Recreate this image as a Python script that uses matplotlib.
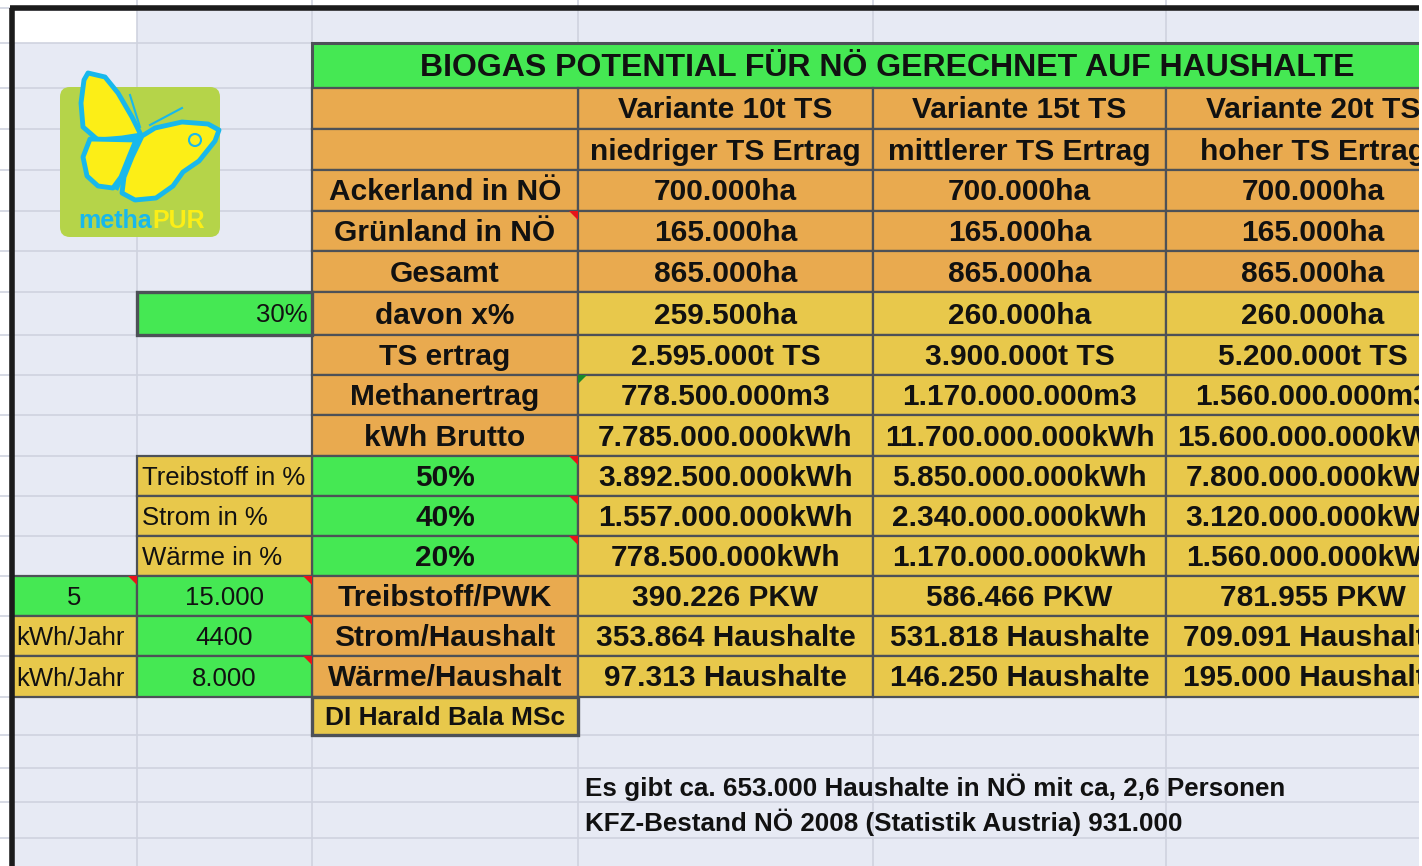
import matplotlib.pyplot as plt
from matplotlib.patches import Rectangle, Polygon, FancyBboxPatch, Circle

# ---- data read from the sheet ----
title = "BIOGAS POTENTIAL FÜR NÖ GERECHNET AUF HAUSHALTE"
variants = ["Variante 10t TS", "Variante 15t TS", "Variante 20t TS"]
yield_levels = ["niedriger TS Ertrag", "mittlerer TS Ertrag", "hoher TS Ertrag"]
row_labels = ["Ackerland in NÖ", "Grünland in NÖ", "Gesamt", "davon x%", "TS ertrag",
              "Methanertrag", "kWh Brutto", "50%", "40%", "20%",
              "Treibstoff/PWK", "Strom/Haushalt", "Wärme/Haushalt"]
values_10t = ["700.000ha", "165.000ha", "865.000ha", "259.500ha", "2.595.000t TS",
              "778.500.000m3", "7.785.000.000kWh", "3.892.500.000kWh", "1.557.000.000kWh",
              "778.500.000kWh", "390.226 PKW", "353.864 Haushalte", "97.313 Haushalte"]
values_15t = ["700.000ha", "165.000ha", "865.000ha", "260.000ha", "3.900.000t TS",
              "1.170.000.000m3", "11.700.000.000kWh", "5.850.000.000kWh", "2.340.000.000kWh",
              "1.170.000.000kWh", "586.466 PKW", "531.818 Haushalte", "146.250 Haushalte"]
values_20t = ["700.000ha", "165.000ha", "865.000ha", "260.000ha", "5.200.000t TS",
              "1.560.000.000m3", "15.600.000.000kWh", "7.800.000.000kWh", "3.120.000.000kWh",
              "1.560.000.000kWh", "781.955 PKW", "709.091 Haushalte", "195.000 Haushalte"]
share_input = "30%"
use_labels = ["Treibstoff in %", "Strom in %", "Wärme in %"]
unit_col_a = ["5", "kWh/Jahr", "kWh/Jahr"]
unit_col_b = ["15.000", "4400", "8.000"]
author = "DI Harald Bala MSc"
notes = ["Es gibt ca. 653.000 Haushalte in NÖ mit ca, 2,6 Personen",
         "KFZ-Bestand NÖ 2008 (Statistik Austria) 931.000"]

# ---- look ----
BG = "#e7eaf4"
GRID = "#cfd3df"
ORANGE = "#e9aa4f"
YELLOW = "#e8c84b"
GREEN = "#45e853"
EDGE = "#4d5157"
BOLD = ["Liberation Sans", "DejaVu Sans"]
NARROW = ["Liberation Sans", "DejaVu Sans"]

xs = [12, 137, 312, 578, 873, 1166, 1460]
ys = [43, 88, 129, 170, 211, 251, 292, 335, 375, 415, 456, 496, 536, 576, 616, 656, 697, 735]
bg_rows = [8, 43, 88, 129, 170, 211, 251, 292, 335, 375, 415, 456, 496, 536, 576, 616,
           656, 697, 735, 768, 802, 838]

fig = plt.figure(figsize=(14.22, 8.66), dpi=100)
ax = fig.add_axes([0, 0, 1, 1])
ax.set_xlim(0, 1422)
ax.set_ylim(866, 0)
ax.axis("off")

# sheet background and grid
ax.add_patch(Rectangle((0, 0), 1422, 866, facecolor="white", zorder=0))
ax.add_patch(Rectangle((12, 8), 1410, 858, facecolor=BG, zorder=0))
ax.add_patch(Rectangle((14, 11), 123, 32, facecolor="white", zorder=0.5))
for y in bg_rows:
    ax.plot([0, 1422], [y, y], color=GRID, lw=1.2, zorder=0.6)
for x in xs[1:-1]:
    ax.plot([x, x], [0, 866], color=GRID, lw=1.2, zorder=0.6)
ax.plot([12, 12], [8, 866], color="#1b1b1b", lw=4, zorder=5, solid_capstyle="butt")
ax.plot([10, 1420], [8, 8], color="#1b1b1b", lw=4, zorder=5, solid_capstyle="butt")
ax.add_patch(Rectangle((1419, 0), 3, 866, facecolor="white", zorder=6))


def cell(c0, c1, r, color, lw=1.6):
    x0, x1 = xs[c0], xs[c1]
    y0, y1 = ys[r], ys[r + 1]
    ax.add_patch(Rectangle((x0, y0), x1 - x0, y1 - y0, facecolor=color,
                           edgecolor=EDGE, lw=lw, zorder=2))
    return x0, x1, (y0 + y1) / 2 + 2


def put(x, y, s, size=21.5, weight="bold", family=BOLD, ha="center"):
    ax.text(x, y, s, fontsize=size, fontweight=weight, family=family, ha=ha,
            va="center", color="#111111", zorder=4, clip_on=True)


def flag(c, r, color="#e8141a", corner="right"):
    y0 = ys[r]
    x = xs[c]
    pts = [(x, y0), (x - 9, y0), (x, y0 + 9)] if corner == "right" else [(x, y0), (x + 9, y0), (x, y0 + 9)]
    ax.add_patch(Polygon(pts, closed=True, facecolor=color, edgecolor="none", zorder=4.5))


# title row
x0, x1, yc = cell(2, 6, 0, GREEN, lw=2.2)
put(887, yc + 1, title, size=23)

# header rows
for j, (v, lev) in enumerate(zip(variants, yield_levels)):
    x0, x1, yc = cell(3 + j, 4 + j, 1, ORANGE)
    put((x0 + x1) / 2, yc, v)
    x0, x1, yc = cell(3 + j, 4 + j, 2, ORANGE)
    put((x0 + x1) / 2, yc, lev)
cell(2, 3, 1, ORANGE)
cell(2, 3, 2, ORANGE)

# body rows
c_colors = [ORANGE] * 7 + [GREEN] * 3 + [ORANGE] * 3
for i, (lab, v10, v15, v20) in enumerate(zip(row_labels, values_10t, values_15t, values_20t)):
    r = 3 + i
    x0, x1, yc = cell(2, 3, r, c_colors[i])
    put((x0 + x1) / 2, yc, lab)
    for j, v in enumerate([v10, v15, v20]):
        col = ORANGE if i < 3 else YELLOW
        x0, x1, yc = cell(3 + j, 4 + j, r, col)
        put((x0 + x1) / 2, yc, v)

# inputs on the left
x0, x1, yc = cell(1, 2, 6, GREEN, lw=2.4)
put(x1 - 4, yc, share_input, size=18.5, weight="normal", family=NARROW, ha="right")
for i, lab in enumerate(use_labels):
    x0, x1, yc = cell(1, 2, 10 + i, YELLOW)
    put(x0 + 5, yc, lab, size=18.5, weight="normal", family=NARROW, ha="left")
for i, (a, b) in enumerate(zip(unit_col_a, unit_col_b)):
    r = 13 + i
    x0, x1, yc = cell(0, 1, r, GREEN if i == 0 else YELLOW)
    if i == 0:
        put((x0 + x1) / 2, yc, a, size=18.5, weight="normal", family=NARROW)
    else:
        put(x0 + 4, yc, a, size=18.5, weight="normal", family=NARROW, ha="left")
    x0, x1, yc = cell(1, 2, r, GREEN)
    put((x0 + x1) / 2, yc, b, size=18.5, weight="normal", family=NARROW)
ax.plot([13, 13], [578, 615], color="#e040d0", lw=1.5, zorder=4.6)
ax.plot([13, 13], [618, 695], color="#3050e0", lw=1.5, zorder=4.6)

# author
x0, x1, yc = cell(2, 3, 16, YELLOW, lw=2.4)
put((x0 + x1) / 2, yc, author, size=19, family=NARROW)

# comment markers
for c, r in [(3, 4), (3, 10), (3, 11), (3, 12), (1, 13), (2, 13), (2, 14), (2, 15)]:
    flag(c, r)
flag(3, 8, color="#1a8a2a", corner="left")

# notes
for k, s in enumerate(notes):
    ax.text(585, 787 + 35 * k, s, fontsize=18.7, fontweight="bold", family=NARROW,
            ha="left", va="center", color="#111111", zorder=4)

# logo
ax.add_patch(FancyBboxPatch((64, 91), 152, 142, boxstyle="round,pad=4,rounding_size=10",
                            facecolor="#b5d449", edgecolor="none", zorder=3))
CYAN = "#18b8ec"
WING = "#fcee17"
upper_left = [(88, 73), (105, 77), (118, 93), (132, 117), (141, 135), (122, 138),
              (98, 140), (83, 127), (81, 103), (84, 80)]
lower_left = [(90, 139), (83, 157), (87, 176), (98, 186), (113, 188), (121, 177),
              (129, 157), (136, 140)]
right_wing = [(142, 136), (155, 128), (182, 122), (208, 124), (219, 130), (215, 141),
              (199, 161), (183, 172), (173, 186), (156, 198), (135, 200), (122, 193),
              (124, 177), (132, 157)]
for w in [upper_left, lower_left, right_wing]:
    ax.add_patch(Polygon(w, closed=True, facecolor=WING, edgecolor=CYAN, lw=3.5,
                         joinstyle="round", zorder=3.5))
ax.plot([140, 117], [137, 188], color=CYAN, lw=3, zorder=3.6)
ax.plot([140, 130], [127, 95], color=CYAN, lw=1.5, zorder=3.6)
ax.plot([150, 182], [125, 108], color=CYAN, lw=1.5, zorder=3.6)
ax.add_patch(Circle((195, 140), 6, facecolor="none", edgecolor=CYAN, lw=1.5, zorder=3.6))
ax.text(152, 221, "metha", fontsize=18, fontweight="bold", family=BOLD, color=CYAN,
        ha="right", va="center", zorder=3.7)
ax.text(152, 221, "PUR", fontsize=18, fontweight="bold", family=BOLD, color=WING,
        ha="left", va="center", zorder=3.7)

fig.savefig("out.png", dpi=100)
